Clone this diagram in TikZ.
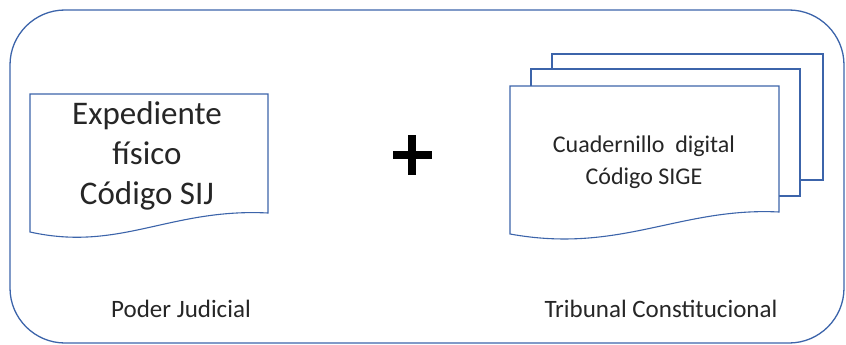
\documentclass[tikz,border=0pt]{standalone}
\usepackage{fontspec}
\setmainfont{Carlito}
\definecolor{lineblue}{RGB}{60,100,170}
\definecolor{txt}{RGB}{38,38,38}
\tikzset{
  docline/.style={draw=lineblue, line width=1.1pt, fill=white},
  lbl/.style={text=txt, inner sep=0pt, align=center},
}
\begin{document}
\begin{tikzpicture}[x=1pt,y=-1pt]
\useasboundingbox (0,0) rectangle (846,345);
% outer frame
\draw[draw=lineblue, line width=1.3pt, rounded corners=55pt] (10,10) rectangle (844,343);
% left document
\draw[docline] (30,94) -- (268,94) -- (268,213)
  .. controls (170,208) and (120,252) .. (30,232) -- cycle;
\node[lbl, font=\fontsize{33}{40}\selectfont] (exp) at (147,156) {Expediente\\físico\\Código SIJ};
% right stacked documents
\draw[docline] (552,54) rectangle (823,180);
\draw[docline] (531,69) rectangle (800,196);
\draw[docline] (510,86) -- (779,86) -- (779,212)
  .. controls (680,207) and (620,254) .. (510,234) -- cycle;
\node[lbl, font=\fontsize{24}{32}\selectfont] (cuad) at (644,162) {Cuadernillo\ \ digital\\Código SIGE};
% plus sign
\node[inner sep=0pt, minimum size=0pt] (plus) at (412,155) {};
\draw[line width=8pt, black] (393,155) -- (432,155);
\draw[line width=8pt, black] (412,135) -- (412,175);
% labels
\node[lbl, anchor=base, font=\fontsize{25}{26}\selectfont] (pj) at (181,317) {Poder Judicial};
\node[lbl, anchor=base, font=\fontsize{25}{26}\selectfont] (tc) at (661,317) {Tribunal Constitucional};
\end{tikzpicture}
\end{document}
